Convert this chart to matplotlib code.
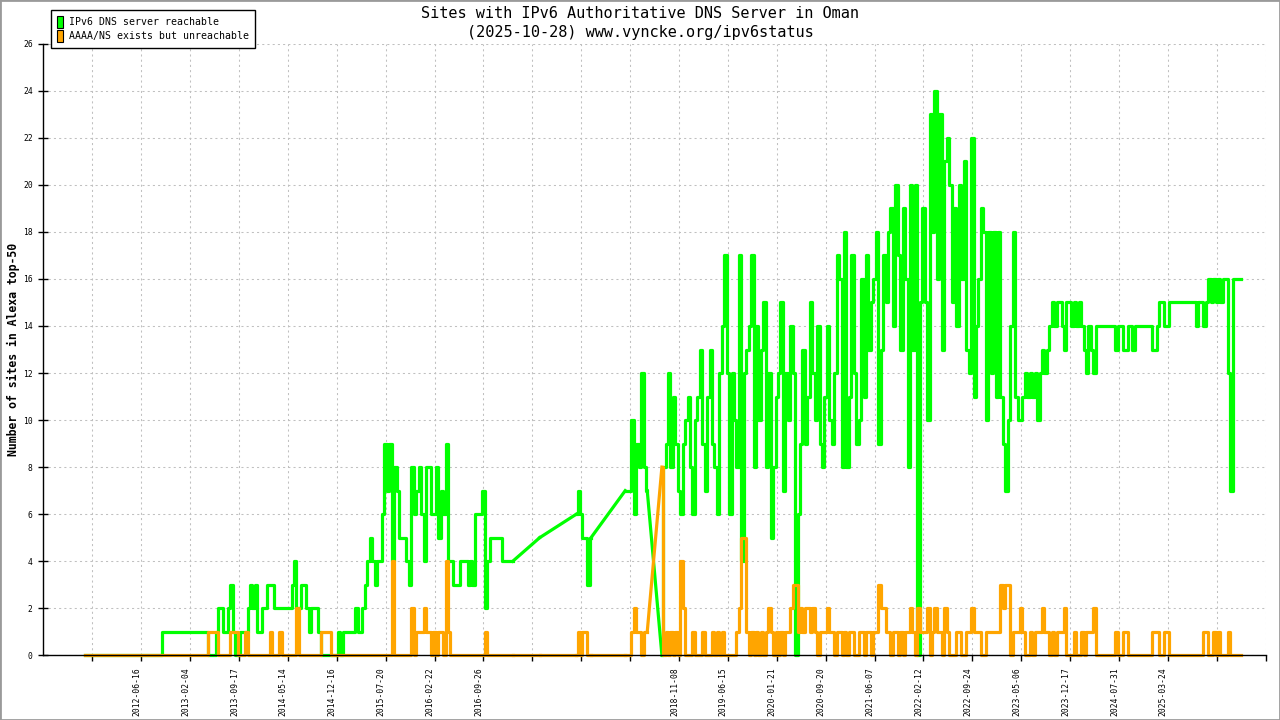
import numpy as np
import matplotlib
matplotlib.use('Agg')
import matplotlib.pyplot as plt
from matplotlib.patches import Patch, Rectangle

N = None  # no measurement for that slot

# one value per measurement slot, 20 slots between two x ticks
green = [
    0, 0, 0, 0, 0, 0, 0, 0, 0, 0, 0, 0, 0, 0, 0, 0, 0, 0, 0, 0,
    0, 0, 0, 0, 0, 0, 0, 0, 0, 0, 0, 0, 1, 1, 1, 1, 1, 1, 1, 1,
    1, 1, 1, 1, 1, 1, 1, 1, 1, 1, 1, 0, 0, 0, 1, 2, 2, 1, 1, 2,
    3, 1, 0, 0, 1, 1, 1, 2, 3, 2, 3, 1, 1, 2, 2, 3, 3, 3, 2, 2,
    2, 2, 2, 2, 2, 3, 4, 2, 2, 3, 3, 2, 1, 2, 2, 2, 1, 0, 0, 0,
    0, 0, 0, 0, 1, 0, 1, 1, 1, 1, 1, 2, 1, 1, 2, 3, 4, 5, 4, 3,
    4, 4, 6, 9, 7, 9, 4, 8, 7, 5, 5, 5, 4, 3, 8, 6, 7, 8, 6, 4,
    8, 8, 6, 6, 8, 5, 7, 6, 9, 4, 4, 3, 3, 3, 4, 4, 4, 3, 4, 3,
    6, 6, 6, 7, 2, 4, 5, 5, 5, 5, 5, 4, 4, 4, 4, 4, N, N, N, N,
    N, N, N, N, N, N, 5, N, N, N, N, N, N, N, N, N, N, N, N, N,
    N, 6, 7, 6, 5, 5, 3, 5, N, N, N, N, N, N, N, N, N, N, N, N,
    N, 7, 7, 7, 10, 6, 9, 8, 12, 8, 7, N, N, N, N, N, 0, 8, 9, 12,
    8, 11, 9, 7, 6, 9, 10, 11, 8, 6, 10, 11, 13, 9, 7, 11, 13, 9, 8, 6,
    12, 14, 17, 12, 6, 12, 10, 8, 17, 4, 12, 13, 14, 17, 8, 14, 10, 13, 15, 8,
    12, 5, 8, 11, 12, 15, 7, 12, 10, 14, 12, 0, 6, 9, 13, 9, 11, 15, 12, 10,
    14, 9, 8, 11, 14, 10, 9, 12, 17, 16, 8, 18, 8, 11, 17, 12, 9, 10, 16, 11,
    17, 13, 15, 16, 18, 9, 13, 17, 15, 18, 19, 14, 20, 17, 13, 19, 16, 8, 20, 13,
    20, 0, 15, 19, 15, 10, 23, 18, 24, 16, 23, 13, 21, 22, 20, 15, 19, 14, 20, 16,
    21, 13, 12, 22, 11, 14, 16, 19, 18, 10, 18, 12, 18, 11, 18, 11, 9, 7, 10, 14,
    18, 11, 10, 10, 11, 12, 11, 12, 11, 12, 10, 12, 13, 12, 13, 14, 15, 14, 15, 15,
    14, 13, 15, 15, 14, 15, 14, 15, 14, 13, 12, 14, 13, 12, 14, 14, 14, 14, 14, 14,
    14, 14, 13, 14, 14, 13, 13, 14, 14, 13, 14, 14, 14, 14, 14, 14, 14, 13, 13, 14,
    15, 15, 14, 14, 15, 15, 15, 15, 15, 15, 15, 15, 15, 15, 15, 14, 15, 15, 14, 15,
    16, 15, 16, 15, 16, 15, 16, 16, 12, 7, 16, 16, 16, 16,
]

orange = [
    0, 0, 0, 0, 0, 0, 0, 0, 0, 0, 0, 0, 0, 0, 0, 0, 0, 0, 0, 0,
    0, 0, 0, 0, 0, 0, 0, 0, 0, 0, 0, 0, 0, 0, 0, 0, 0, 0, 0, 0,
    0, 0, 0, 0, 0, 0, 0, 0, 0, 0, 0, 1, 1, 1, 1, 0, 0, 0, 0, 0,
    1, 1, 1, 0, 0, 0, 1, 0, 0, 0, 0, 0, 0, 0, 0, 0, 1, 0, 0, 0,
    1, 0, 0, 0, 0, 0, 0, 2, 0, 0, 0, 0, 0, 0, 0, 0, 0, 1, 1, 1,
    1, 0, 0, 0, 0, 0, 0, 0, 0, 0, 0, 0, 0, 0, 0, 0, 0, 0, 0, 0,
    0, 0, 0, 0, 0, 0, 4, 0, 0, 0, 0, 0, 0, 0, 2, 0, 1, 1, 1, 2,
    1, 1, 0, 1, 0, 1, 1, 0, 4, 1, 0, 0, 0, 0, 0, 0, 0, 0, 0, 0,
    0, 0, 0, 0, 1, 0, 0, 0, 0, 0, 0, 0, 0, 0, 0, 0, N, N, N, N,
    N, N, N, N, N, N, 0, N, N, N, N, N, N, N, N, N, N, N, N, N,
    N, 0, 1, 0, 1, 1, 0, 0, N, N, N, N, N, N, N, N, N, N, N, N,
    N, 0, 0, 0, 1, 2, 1, 1, 0, 1, 1, N, N, N, N, N, 8, 0, 1, 0,
    1, 0, 1, 0, 4, 2, 0, 0, 0, 1, 0, 0, 0, 1, 0, 0, 0, 1, 0, 1,
    0, 1, 0, 0, 0, 0, 0, 1, 2, 5, 5, 1, 0, 1, 0, 1, 0, 1, 0, 1,
    2, 1, 0, 1, 0, 1, 0, 1, 1, 2, 3, 3, 1, 2, 1, 2, 2, 1, 2, 1,
    0, 1, 1, 1, 2, 1, 1, 0, 1, 1, 0, 1, 0, 1, 1, 0, 0, 1, 1, 0,
    1, 1, 0, 1, 1, 3, 2, 2, 1, 1, 0, 1, 1, 0, 1, 0, 1, 1, 2, 1,
    0, 2, 1, 1, 1, 2, 0, 1, 2, 1, 1, 0, 2, 1, 0, 0, 0, 1, 1, 0,
    0, 1, 1, 2, 1, 1, 1, 0, 0, 1, 1, 1, 1, 1, 1, 3, 2, 3, 3, 0,
    1, 1, 1, 2, 1, 0, 0, 1, 0, 1, 1, 1, 2, 1, 1, 0, 1, 0, 1, 1,
    1, 2, 0, 0, 0, 1, 0, 0, 1, 0, 1, 1, 1, 2, 0, 0, 0, 0, 0, 0,
    0, 0, 1, 0, 0, 1, 1, 0, 0, 0, 0, 0, 0, 0, 0, 0, 0, 1, 1, 1,
    0, 0, 1, 1, 0, 0, 0, 0, 0, 0, 0, 0, 0, 0, 0, 0, 0, 0, 1, 1,
    0, 0, 1, 0, 1, 0, 0, 0, 1, 0, 0, 0, 0, 0,
]

tick_labels = ['', '2012-06-16', '2013-02-04', '2013-09-17', '2014-05-14',
               '2014-12-16', '2015-07-20', '2016-02-22', '2016-09-26',
               '', '', '', '2018-11-08', '2019-06-15', '2020-01-21',
               '2020-09-20', '2021-06-07', '2022-02-12', '2022-09-24',
               '2023-05-06', '2023-12-17', '2024-07-31', '2025-03-24', '', '']

GREEN = '#00ff00'
ORANGE = '#ffa500'
MONO = 'DejaVu Sans Mono'

plt.rcParams['font.family'] = [MONO, 'DejaVu Sans']

fig = plt.figure(figsize=(12.8, 7.2), dpi=100)
ax = fig.add_axes([43.3 / 1280, 1 - 655.3 / 720, (1265.7 - 43.3) / 1280, (655.3 - 43.7) / 720])

slots = np.arange(len(green))


def draw(vals, color):
    y = np.array([np.nan if v is None else v for v in vals], dtype=float)
    ok = np.isfinite(y)
    xs, ys = slots[ok], y[ok]
    cut = np.where(np.diff(xs) > 1)[0]
    starts = np.r_[0, cut + 1]
    ends = np.r_[cut, len(xs) - 1]
    kw = dict(color=color, lw=2.3, clip_on=False)
    for a, b in zip(starts, ends):
        if b > a:
            ax.plot(xs[a:b + 1], ys[a:b + 1], drawstyle='steps-mid', **kw)
    # missing slots: the original joins the measurements with a straight line
    for b, a in zip(ends[:-1], starts[1:]):
        ax.plot([xs[b], xs[a]], [ys[b], ys[a]], **kw)


draw(green, GREEN)
draw(orange, ORANGE)

ax.set_xlim(-17.06, 483)
ax.set_ylim(0, 26)
ax.set_xticks(3 + 20 * np.arange(len(tick_labels)))
ax.set_xticklabels(tick_labels, rotation=90, ha='right', va='top', fontsize=5.8)
ax.set_yticks(range(0, 27, 2))
ax.tick_params(axis='y', direction='inout', length=7.2, width=1, labelsize=5.8, pad=4)
ax.tick_params(axis='x', direction='out', length=4.3, width=1, pad=4.5)

ax.grid(True, color='#c0c0c0', lw=0.75, linestyle=(0, (2, 3)))
ax.set_axisbelow(True)
for side in ['top', 'right']:
    ax.spines[side].set_visible(False)
for side in ['left', 'bottom']:
    ax.spines[side].set_linewidth(1.0)

fig.text(0.5, 1 - 14 / 720, 'Sites with IPv6 Authoritative DNS Server in Oman',
         ha='center', va='center', fontsize=11)
fig.text(0.5, 1 - 32 / 720, '(2025-10-28) www.vyncke.org/ipv6status',
         ha='center', va='center', fontsize=11)
fig.text(13 / 1280, 1 - 349 / 720, 'Number of sites in Alexa top-50',
         rotation=90, ha='center', va='center', fontsize=8.3, fontweight='bold')

handles = [Patch(facecolor=GREEN, edgecolor='black', lw=0.8, label='IPv6 DNS server reachable'),
           Patch(facecolor=ORANGE, edgecolor='black', lw=0.8, label='AAAA/NS exists but unreachable')]
leg = fig.legend(handles=handles, loc='upper left',
                 bbox_to_anchor=(50.7 / 1280, 1 - 10.3 / 720), bbox_transform=fig.transFigure,
                 borderaxespad=0, fancybox=False, framealpha=1, edgecolor='black',
                 prop={'family': MONO, 'size': 7.1}, handlelength=0.68, handleheight=1.5,
                 handletextpad=0.57, labelspacing=0.2, borderpad=0.6)
leg.get_frame().set_linewidth(1.0)

fig.patches.append(Rectangle((0, 0), 1, 1, transform=fig.transFigure, fill=False,
                             edgecolor='#9a9a9a', lw=2))

fig.savefig('out.png', dpi=100)
